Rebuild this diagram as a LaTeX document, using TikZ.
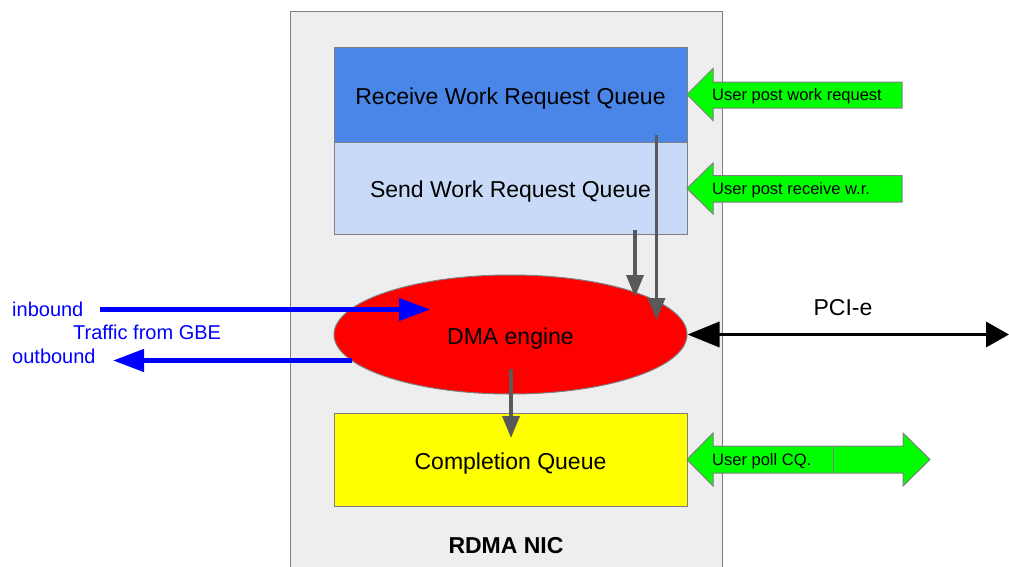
\documentclass[tikz,border=0pt]{standalone}
\usepackage{fontspec}
\setmainfont{Liberation Sans}
\usetikzlibrary{arrows.meta,shapes.geometric}
\definecolor{nicbg}{HTML}{EEEEEE}
\definecolor{bordergray}{HTML}{7F7F7F}
\definecolor{recvblue}{HTML}{4A86E8}
\definecolor{sendblue}{HTML}{C9DAF8}
\definecolor{arrgray}{HTML}{595959}
\definecolor{gfill}{HTML}{00FF00}
\definecolor{tblue}{HTML}{0000FF}
\definecolor{cqyellow}{HTML}{FFFF00}
\definecolor{dmared}{HTML}{FF0000}
\tikzset{
  boxstyle/.style={draw=bordergray, line width=1pt},
  bigtext/.style={font=\fontsize{23}{27}\selectfont, text=black, text height=19pt, text depth=0pt},
  smalltext/.style={font=\fontsize{16.5}{20}\selectfont, text=black, anchor=west, inner sep=0, text height=10pt, text depth=0pt},
  bluetext/.style={font=\fontsize{20}{24}\selectfont, text=tblue, inner sep=0},
  grayarrow/.style={draw=arrgray, line width=3.5pt, -{Triangle[length=22pt,width=17pt]}},
  bluearrow/.style={draw=tblue, line width=4.5pt, -{Triangle[length=31pt,width=22pt]}},
  blackarrow/.style={draw=black, line width=3.5pt, {Triangle[length=32pt,width=25pt]}-{Triangle[length=23pt,width=25pt]}},
  greenshape/.style={fill=gfill, draw=bordergray, line width=1pt, line join=miter},
}
\begin{document}
\begin{tikzpicture}[x=1pt,y=-1pt]
\useasboundingbox (0,0) rectangle (1009,566);
% outer NIC box
\fill[nicbg] (290,11) rectangle (722,580);
\draw[boxstyle] (290,580) -- (290,11) -- (722,11) -- (722,580);
\node[font=\fontsize{23}{27}\selectfont\bfseries, text height=14pt, text depth=0pt] (nic) at (506,546) {RDMA NIC};
% queues
\node[boxstyle, fill=recvblue, minimum width=353pt, minimum height=95pt, inner sep=0, bigtext] (rq) at (510.5,94.5) {Receive Work Request Queue};
\node[boxstyle, fill=sendblue, minimum width=353pt, minimum height=92pt, inner sep=0, bigtext] (sq) at (510.5,188) {Send Work Request Queue};
\node[boxstyle, fill=cqyellow, minimum width=353pt, minimum height=93pt, inner sep=0, bigtext] (cq) at (510.5,459.5) {Completion Queue};
% DMA engine
\node[ellipse, draw=bordergray, line width=1pt, fill=dmared, minimum width=353pt, minimum height=119pt, inner sep=0, bigtext] (dma) at (510.5,334.5) {DMA engine};
% gray arrows
\coordinate (a1s) at (656.5,135);
\coordinate (a1e) at (656.5,320);
\coordinate (a2s) at (635,230);
\coordinate (a2e) at (635,297);
\coordinate (a3s) at (511,369);
\coordinate (a3e) at (511,438);
\draw[grayarrow] (a1s) -- (a1e);
\draw[grayarrow] (a2s) -- (a2e);
\draw[grayarrow] (a3s) -- (a3e);
% blue traffic arrows
\coordinate (ins) at (100,309.5);
\coordinate (ine) at (430,309.5);
\coordinate (outs) at (352,360.5);
\coordinate (oute) at (113,360.5);
\draw[bluearrow] (ins) -- (ine);
\draw[bluearrow] (outs) -- (oute);
\node[bluetext, anchor=west] (inbl) at (12,309) {inbound};
\node[bluetext, anchor=west] (trl) at (73,332) {Traffic from GBE};
\node[bluetext, anchor=west] (outl) at (12,356) {outbound};
% PCI-e
\coordinate (pci) at (1009,334.5);
\draw[blackarrow] (dma.east) -- (pci);
\node[font=\fontsize{23}{27}\selectfont, text height=14pt, text depth=0pt] (pcil) at (843,308) {PCI-e};
% green block arrows
\draw[greenshape] (687,94.5) -- (713,68.5) -- (713,82) -- (902,82) -- (902,108) -- (713,108) -- (713,120.5) -- cycle;
\node[smalltext] (g1) at (712,95.5) {User post work request};
\draw[greenshape] (687,188.5) -- (713,163) -- (713,175.5) -- (902,175.5) -- (902,202) -- (713,202) -- (713,214) -- cycle;
\node[smalltext] (g2) at (712,189.5) {User post receive w.r.};
\draw[greenshape] (687,459.5) -- (713,433) -- (713,446) -- (903,446) -- (903,433) -- (930,459.5) -- (903,486) -- (903,473) -- (713,473) -- (713,486) -- cycle;
\draw[draw=bordergray, line width=1pt] (833,446) -- (833,473);
\node[smalltext] (g3) at (712,460.5) {User poll CQ.};
\end{tikzpicture}
\end{document}
